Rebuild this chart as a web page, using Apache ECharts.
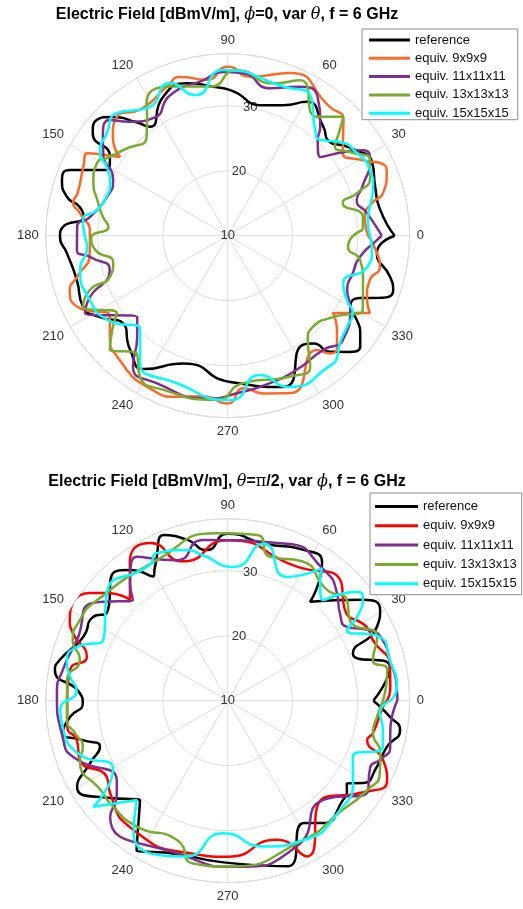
<!DOCTYPE html>
<html><head><meta charset="utf-8">
<script src="https://cdn.jsdelivr.net/npm/echarts@6/dist/echarts.min.js"></script>
<style>html,body{margin:0;padding:0;background:#fff}#c{width:523px;height:909px}</style>
</head><body><div id="c"></div>
<script>
// ---------- tick labels / names ----------
const thetaTicks = [0,30,60,90,120,150,180,210,240,270,300,330];
const rTicks = [10,20,30];
const seriesNames = ['reference','equiv. 9x9x9','equiv. 11x11x11','equiv. 13x13x13','equiv. 15x15x15'];
const topColors = ['#000000','#ff6a2a','#7e2f8e','#77ac30','#00ffff'];
const botColors = ['#000000','#ff0000','#7e2f8e','#77ac30','#00ffff'];

// ---------- top plot: phi=0, var theta (angle deg, value dBmV/m) ----------
const topRefAng = [0,9.6,18.3,26.7,35.6,43.7,48.7,59.5,67,74.7,89,95.5,105,114.8,125.5,129,134,138.5,142.7,146.2,151.4,157.4,161.4,166.5,169,172.6,177,180.4,186.1,196.4,206.2,212.5,219.8,229.5,238,251,271,290.2,304.7,308.5,311.4,315.7,320,323.7,326.9,329.8,334.8,337.8,341.8,345.7,353.4];
const topRefVal = [35.7,33.8,33.9,34.9,33.2,31.3,32.3,33.9,31.8,30.8,32.4,33.0,34.3,33.6,30.6,32.5,35.4,36.9,36.1,31.8,31.1,36.3,36.9,35.4,33.2,32.4,35.4,35.8,34.9,34.2,34.8,33.3,31.0,33.1,34.2,30.8,32.5,34.8,30.4,31.2,33.8,35.6,36.6,35.3,33.7,31.8,32.5,35.3,36.8,35.8,33.1];
const top9Ang = [0,7.8,12.8,15.4,21.5,25.5,29,35.6,42.5,45,51.6,69,82,90,97.7,106.7,112,124,133,139.3,143.8,149.6,154.6,164.1,168,171.3,178.9,187.2,195.3,199,205.3,214.5,220.7,227.5,244,252.4,261,270,276,283,292,308,311,314.5,319.2,323.7,328.3,331.5,336.3,342.7,348.4,353.4];
const top9Val = [31.6,31.3,32.8,34.8,36.3,36.0,33.9,31.8,34.1,35.2,35.3,36.8,34.7,36.0,34.2,35.5,34.8,33.6,35.0,33.3,30.5,35.1,34.6,34.0,34.3,33.0,31.2,31.4,34.0,35.7,35.6,32.0,33.9,35.2,36.4,36.0,35.0,35.8,33.6,34.9,36.1,32.3,34.0,34.0,32.2,30.1,32.6,34.9,33.4,32.9,33.9,33.1];
const top11Ang = [0,9.3,15.4,19.9,28,32.3,40.4,46.7,49.7,57,65,74,84.5,91,99,112,122,130.6,135.5,141.6,146.4,154.1,162.2,172.3,176.7,185.4,188.8,196.2,205.6,208.6,221.9,228.2,234,244,263.8,273,286,297,310,317.9,329.8,335.5,343.4,350.9,358.4];
const top11Val = [33.7,31.7,30.6,32.0,34.8,34.6,28.7,30.2,32.0,35.4,35.3,33.6,35.1,35.2,34.2,33.4,31.4,33.1,35.4,34.5,33.0,29.6,29.5,31.4,33.2,33.3,31.4,28.9,34.0,35.0,28.7,30.9,34.8,35.2,35.2,34.3,33.6,33.2,32.9,33.9,31.8,30.2,30.1,30.6,33.0];
const top13Ang = [2.4,7.9,15.8,18.3,22.4,28,34.4,39.6,43.3,45.8,53,65,73,87,96.8,111,121.5,123.8,129.3,140.7,146.2,150.9,158.6,164.7,171.5,175.7,181,186,193.4,199.3,201.5,206.2,214.9,218.5,224,232,238,247.4,266,276,294,302.2,307.6,313,322.3,331.2,341.9,349.6,354.6,358];
const top13Val = [30.8,31.0,28.4,31.0,33.7,34.8,32.8,31.4,33.7,35.5,32.9,36.4,34.5,35.5,33.1,34.6,33.9,32.3,29.7,30.8,31.8,33.0,32.2,30.8,29.4,28.4,31.0,30.5,28.1,29.2,32.8,34.8,30.8,32.6,35.2,32.9,35.5,35.7,35.3,32.8,33.7,33.8,30.2,29.2,30.5,33.7,31.9,30.7,28.6,28.8];
const top15Ang = [0,6.4,11.4,18.5,24.8,32.6,39.8,46,50.4,59,69.5,91.5,103,110.7,122,132,139.6,147.1,150.4,155.9,162,168.9,173.8,180,184.6,193.1,205,214.9,227.1,231.8,235.5,251,271,283,292,309.6,311.8,316.3,322.6,328.3,331.7,337.7,347.3,354.3];
const top15Val = [31.9,31.7,32.3,33.6,34.1,33.6,32.5,30.5,31.1,34.9,34.5,35.5,32.2,35.1,33.2,35.4,34.4,33.4,31.4,29.8,29.6,30.5,32.4,32.0,31.7,33.3,33.4,32.6,29.8,31.8,33.8,34.0,35.3,32.0,35.1,35.5,35.2,33.9,33.1,32.6,30.8,29.2,32.0,32.3];

// ---------- bottom plot: theta=pi/2, var phi ----------
const botRefAng = [0,11.7,20.8,26.3,30.8,36.7,50.2,55.6,63,77,90,98,104,111,118.4,121,126.8,131.9,144,148.1,156.2,166.4,169.9,177,180.9,185.9,191.1,195.2,199.9,204.3,209.8,218.9,228.6,238.6,249,273,290,302,308,319.3,323.2,325.2,328.7,336,343.8,350.3,354.3];
const botRefVal = [32.4,35.5,30.6,35.6,37.3,36.0,29.8,35.7,36.0,34.8,35.7,33.4,35.5,37.3,33.5,32.3,35.1,36.4,33.0,34.4,34.3,36.6,37.0,32.8,32.3,34.4,35.8,33.1,30.9,33.2,36.7,33.8,30.4,36.9,35.1,35.1,37.1,32.2,33.9,33.4,32.9,32.3,34.4,35.1,35.5,36.9,35.1];
const bot9Ang = [0,4.8,11.7,22.7,27.9,37.7,47.1,63,90,107.7,116,125.4,134.1,138.3,142,152.9,156.4,162.7,169,180.8,189.3,194.6,201.9,212.3,218.1,233.9,256,270,289.4,297,314.4,325.1,333.5,339.1,344.2,347.5,357.7];
const bot9Val = [34.5,35.1,35.5,34.2,34.2,32.8,35.4,33.2,34.7,32.5,37.0,36.0,31.6,34.9,36.9,37.3,36.0,32.7,34.7,34.7,35.0,34.0,34.5,32.0,33.0,34.6,34.2,34.0,32.7,36.9,31.0,34.8,37.4,35.6,32.3,32.9,33.9];
const bot11Ang = [0,4.6,14.1,21.3,26.4,31.7,38,44.6,54,69.4,98.6,110,122.3,129.7,133.2,144,158.1,169.4,177.4,193.4,200,215.6,219.8,224.6,255,273,295.3,314,326.5,335,338.7,344.1,348.7];
const bot11Val = [36.1,36.1,35.7,35.6,34.4,31.6,31.9,33.6,35.0,35.8,35.0,33.0,36.2,33.5,31.3,35.6,35.0,35.8,36.3,36.0,35.3,31.0,32.2,35.4,34.8,35.6,34.8,31.2,35.7,34.2,35.1,36.0,35.5];
const bot13Ang = [0,10.9,15.6,23.1,33.4,40.2,48.1,62,73.6,80,93.8,116.7,143.6,151.4,158.6,164.6,172.7,186.8,192.1,197.7,201.9,216.5,221,234,250,258,270,298.5,315,327.3,334.6,341.1,347.5,353.8];
const bot13Val = [33.9,35.0,33.2,35.0,32.5,34.0,32.9,34.3,33.1,35.9,35.8,34.2,35.5,35.9,35.6,33.6,34.9,34.9,34.0,33.4,34.5,33.9,34.0,33.9,32.8,35.6,35.5,34.4,34.3,35.5,35.9,34.8,32.9,33.1];
const bot15Ang = [0,4.6,14.1,22.7,30.6,32.9,37.5,40.1,46.6,52.6,54.5,64.5,77,87.6,100,105,115.7,119.8,138.3,154,160.4,165.8,171.5,176,183.2,189.1,199.1,211.1,218.3,227.5,234.6,255,268,284,298.5,316,327.7,335.8,343.4,349.3,355.4];
const bot15Val = [35.0,36.1,35.7,35.4,31.3,33.7,36.2,36.0,31.3,33.4,35.0,31.1,34.8,30.6,32.8,34.0,35.2,34.1,34.9,31.3,34.6,35.5,34.5,33.3,35.8,35.7,34.5,30.6,36.3,30.7,35.0,34.8,30.4,33.1,34.4,34.1,32.8,31.1,34.9,34.3,33.5];

const topSets = [[topRefAng,topRefVal],[top9Ang,top9Val],[top11Ang,top11Val],[top13Ang,top13Val],[top15Ang,top15Val]];
const botSets = [[botRefAng,botRefVal],[bot9Ang,bot9Val],[bot11Ang,bot11Val],[bot13Ang,bot13Val],[bot15Ang,bot15Val]];

function pairs(ang, val){
  const d = ang.map((a,i)=>[val[i], a]);
  d.push([val[0], ang[0]+360]);
  return d;
}

const FONT = 'Liberation Sans, Arial, Helvetica, sans-serif';
const gridColor = '#dedede';
const labelColor = '#333333';
const CX = 227.7, R = 182;
const centers = [235.7, 700.7];

const polar = [], angleAxis = [], radiusAxis = [];
centers.forEach((cy, k) => {
  polar.push({center:[CX, cy], radius:R});
  polar.push({center:[CX, cy], radius:R});
  const main = 2*k, lab = 2*k+1;
  angleAxis.push({polarIndex:main, type:'value', min:0, max:360, interval:30, startAngle:0, clockwise:false,
    axisLine:{show:true, lineStyle:{color:gridColor, width:1}},
    axisTick:{show:false},
    axisLabel:{show:true, margin:7, color:labelColor, fontSize:13, fontFamily:FONT,
      formatter:v => thetaTicks.indexOf(v) >= 0 ? String(v) : ''},
    splitLine:{show:true, lineStyle:{color:gridColor, width:1}}
  });
  radiusAxis.push({polarIndex:main, type:'value', min:10, max:38, interval:10,
    axisLine:{show:false}, axisTick:{show:false}, axisLabel:{show:false},
    splitLine:{show:true, lineStyle:{color:gridColor, width:1}}
  });
  angleAxis.push({polarIndex:lab, type:'value', min:0, max:360, startAngle:80, clockwise:false,
    axisLine:{show:false}, axisTick:{show:false}, axisLabel:{show:false}, splitLine:{show:false}});
  radiusAxis.push({polarIndex:lab, type:'value', min:10, max:38, interval:10, z:1,
    axisLine:{show:false}, axisTick:{show:false}, splitLine:{show:false},
    axisLabel:{show:true, margin:0, rotate:0, align:'center', verticalAlign:'middle', color:labelColor, fontSize:13, fontFamily:FONT,
      formatter:v => rTicks.indexOf(v) >= 0 ? String(v) : ''}
  });
});

const series = [];
topSets.forEach((s, i) => {
  series.push({name:seriesNames[i], type:'line', coordinateSystem:'polar', polarIndex:0,
    data:pairs(s[0], s[1]), showSymbol:false, smooth:0.6, color:topColors[i],
    lineStyle:{width:2.5, color:topColors[i]}, z:3+i});
});
botSets.forEach((s, i) => {
  series.push({name:'B|'+seriesNames[i], type:'line', coordinateSystem:'polar', polarIndex:2,
    data:pairs(s[0], s[1]), showSymbol:false, smooth:0.6, color:botColors[i],
    lineStyle:{width:2.5, color:botColors[i]}, z:3+i});
});

const legendCommon = {orient:'vertical', icon:'rect', backgroundColor:'#ffffff', borderColor:'#8f8f8f', borderWidth:1,
  borderRadius:0, selectedMode:false, z:20,
  textStyle:{fontFamily:FONT, fontSize:13, lineHeight:13, color:'#111'},
  formatter:n => n.replace(/^B\|/, '')};

const option = {
  animation:false,
  backgroundColor:'#ffffff',
  polar, angleAxis, radiusAxis, series,
  legend:[
    Object.assign({}, legendCommon, {left:362, top:29, itemWidth:41, itemHeight:3, itemGap:5.3,
      padding:[4.5, 9, 0, 7], data:seriesNames.slice()}),
    Object.assign({}, legendCommon, {left:370, top:493, itemWidth:43, itemHeight:3, itemGap:6.3,
      padding:[7, 5, 4.5, 5], data:seriesNames.map(n => 'B|'+n)})
  ],
  graphic:[
    {type:'text', x:227, y:15, z:30, style:{text:'Electric Field [dBmV/m], {g|\u03D5}=0, var {g|\u03B8}, f = 6 GHz',
      fontFamily:FONT, fontSize:16, fontWeight:'bold', fill:'#000', align:'center', verticalAlign:'middle',
      rich:{g:{fontFamily:'DejaVu Serif', fontStyle:'italic', fontWeight:'normal', fontSize:16, fill:'#000'}}}},
    {type:'text', x:227, y:482, z:30, style:{text:'Electric Field [dBmV/m], {g|\u03B8}={p|\u03C0}/2, var {g|\u03D5}, f = 6 GHz',
      fontFamily:FONT, fontSize:16, fontWeight:'bold', fill:'#000', align:'center', verticalAlign:'middle',
      rich:{g:{fontFamily:'DejaVu Serif', fontStyle:'italic', fontWeight:'normal', fontSize:16, fill:'#000'},
            p:{fontFamily:'DejaVu Serif', fontWeight:'normal', fontSize:16, fill:'#000'}}}}
  ]
};

const chart = echarts.init(document.getElementById('c'));
chart.setOption(option);
</script>
</body></html>
